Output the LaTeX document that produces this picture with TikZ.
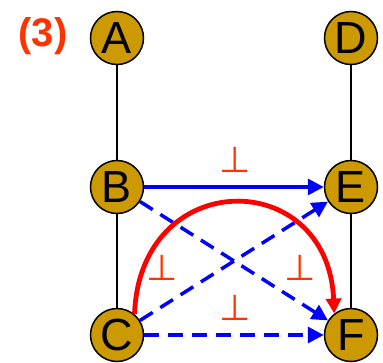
\documentclass[tikz,border=0pt]{standalone}
\usepackage{fontspec}
\setmainfont{Liberation Sans}
\newfontfamily\symfont{DejaVu Sans}
\usetikzlibrary{arrows.meta}
\definecolor{gold}{HTML}{CC9900}
\definecolor{perpred}{HTML}{FF3300}
\definecolor{pureblue}{RGB}{0,0,255}
\begin{document}
\begin{tikzpicture}[x=1pt,y=-1pt,
  vtx/.style={circle,draw=black,line width=1.5pt,fill=gold,minimum size=53pt,inner sep=0pt,font=\fontsize{45}{45}\selectfont},
  vline/.style={draw=black,line width=1.2pt},
  barrow/.style={draw=pureblue,line width=3.5pt,-{Triangle[length=16pt,width=16pt]}},
  dsh/.style={dash pattern=on 15pt off 9pt},
  perpsym/.style={text=perpred,font=\symfont\fontsize{36}{36}\selectfont,inner sep=0pt}]
\useasboundingbox (0,0) rectangle (383,362);
\node[text=perpred,font=\bfseries\fontsize{40}{40}\selectfont] (lbl) at (43,36) {(3)};
\node[vtx] (A) at (117,38) {A};
\node[vtx] (B) at (117,187) {B};
\node[vtx] (C) at (117,335) {C};
\node[vtx] (D) at (351,38) {D};
\node[vtx] (E) at (351,187) {E};
\node[vtx] (F) at (351,335) {F};
\draw[vline] (A) -- (B);
\draw[vline] (B) -- (C);
\draw[vline] (D) -- (E);
\draw[vline] (E) -- (F);
\draw[barrow] (B) -- (E);
\draw[barrow,dsh] (B) -- (F);
\draw[barrow,dsh] (C) -- (E);
\draw[barrow,dsh] (C) -- (F);
\draw[draw=red,line width=4.8pt,-{Triangle[length=15pt,width=15pt]}] (C.50) .. controls (140,166) and (328,166) .. (F.128);
\node[perpsym] (p1) at (235,160) {⊥};
\node[perpsym] (p2) at (162,268) {⊥};
\node[perpsym] (p3) at (300,268) {⊥};
\node[perpsym] (p4) at (235,308) {⊥};
\end{tikzpicture}
\end{document}
